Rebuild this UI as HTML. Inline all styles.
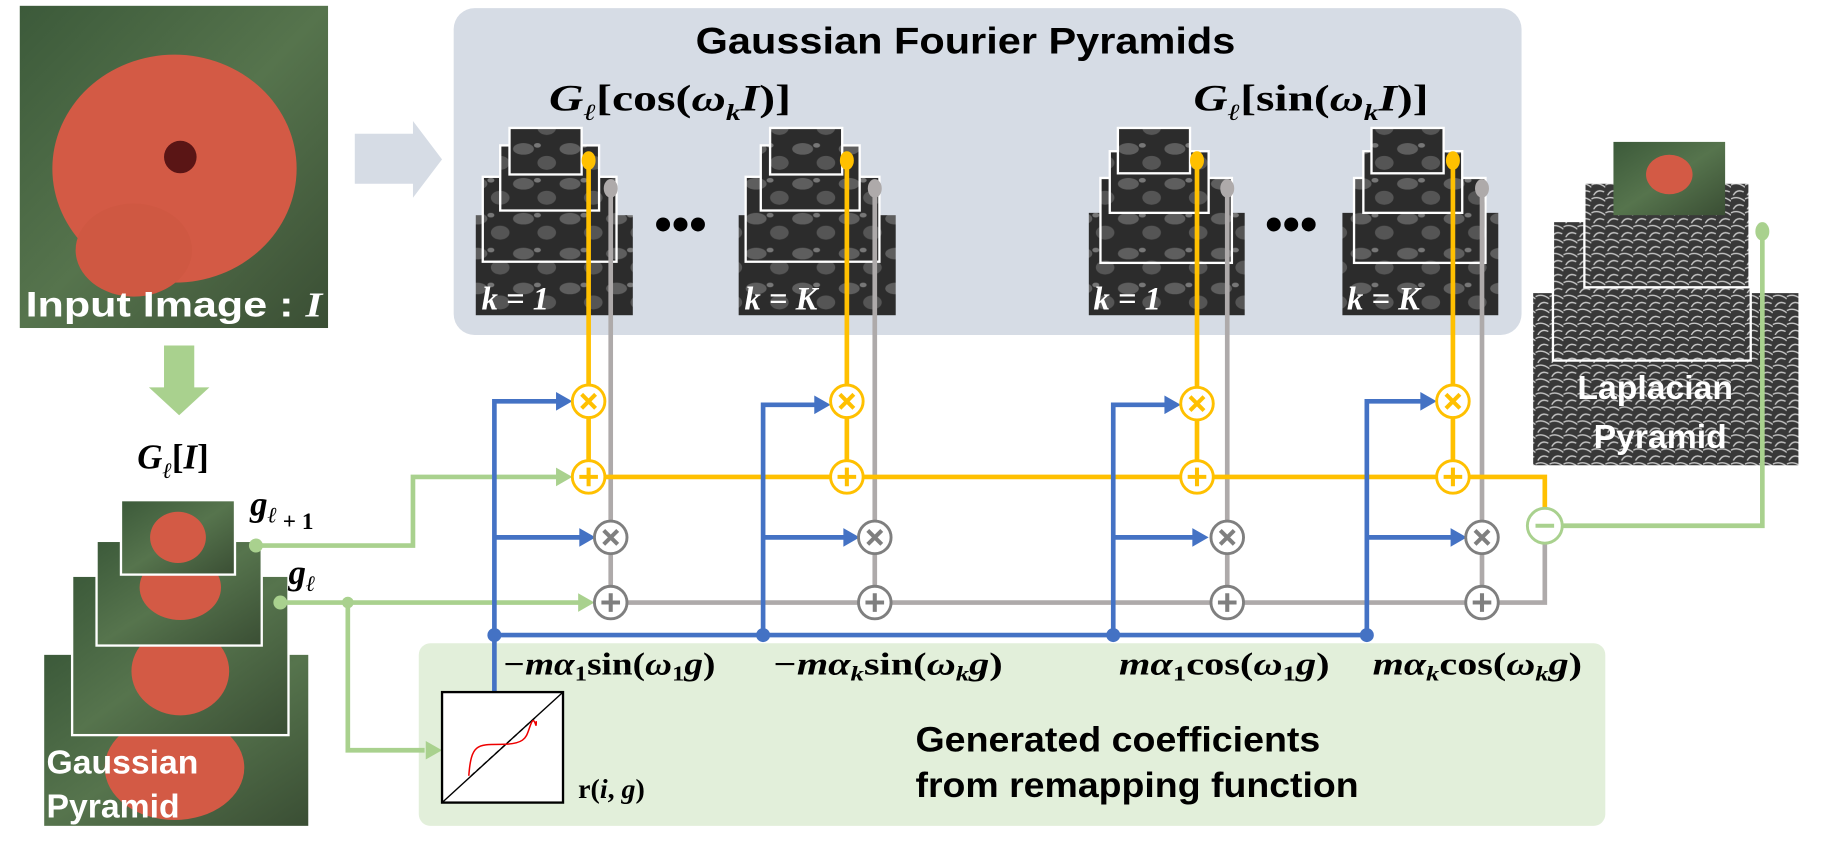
<!DOCTYPE html>
<html><head><meta charset="utf-8"><style>
html,body{margin:0;padding:0;background:#fff;}
svg{display:block;}
.t{font-family:"Liberation Sans",sans-serif;font-weight:bold;}
.m{font-family:"Liberation Serif",serif;font-weight:bold;font-style:italic;}
</style></head><body>
<svg width="1824" height="859" viewBox="0 0 1568 738.5" preserveAspectRatio="none" xmlns="http://www.w3.org/2000/svg">
<defs>
<pattern id="dk" width="40" height="30" patternUnits="userSpaceOnUse">
<rect width="40" height="30" fill="#2c2c2c"/>
<ellipse cx="10" cy="8" rx="9" ry="5" fill="#5e5e5e"/>
<ellipse cx="30" cy="20" rx="8" ry="6" fill="#555"/>
<ellipse cx="22" cy="5" rx="3" ry="2" fill="#777"/>
</pattern>
<pattern id="lp" width="12" height="12" patternUnits="userSpaceOnUse">
<rect width="12" height="12" fill="#383838"/>
<path d="M0 3 Q6 0 12 5 M2 12 Q5 6 11 9" stroke="#c8c8c8" stroke-width="1.2" fill="none"/>
</pattern>
<linearGradient id="lf" x1="0" y1="0" x2="1" y2="1">
<stop offset="0" stop-color="#3c5a3a"/><stop offset="0.5" stop-color="#56744d"/><stop offset="1" stop-color="#3a4e34"/>
</linearGradient>
</defs>

<!-- Input image -->
<rect x="17" y="5" width="265" height="277" fill="url(#lf)"/>
<ellipse cx="150" cy="145" rx="105" ry="98" fill="#d35a45"/>
<ellipse cx="115" cy="215" rx="50" ry="40" fill="#cf5842"/>
<circle cx="155" cy="135" r="14" fill="#5a1515"/>
<text x="22" y="272" class="t" font-size="30" fill="#fff" font-weight="normal" textLength="255" lengthAdjust="spacingAndGlyphs">Input Image : <tspan font-family="Liberation Serif" font-style="italic" font-weight="bold">I</tspan></text>

<!-- gray arrow -->
<polygon points="305,115 355,115 355,104 380,137 355,170 355,158 305,158" fill="#d6dce5"/>
<!-- green down arrow -->
<polygon points="141,297 167,297 167,333 180,333 154,357 128,333 141,333" fill="#a9d18e"/>

<!-- Fourier box -->
<rect x="390" y="7" width="918" height="281" rx="18" fill="#d6dce5"/>
<text x="598" y="46" class="t" font-size="32" textLength="464" lengthAdjust="spacingAndGlyphs">Gaussian Fourier Pyramids</text>
<text x="472" y="95" class="m" font-size="32" textLength="208" lengthAdjust="spacingAndGlyphs">G<tspan font-size="20" dy="8">ℓ</tspan><tspan dy="-8" font-style="normal">[cos(</tspan>ω<tspan font-size="20" dy="8">k</tspan><tspan dy="-8">I</tspan><tspan font-style="normal">)]</tspan></text>
<text x="1026" y="95" class="m" font-size="32" textLength="202" lengthAdjust="spacingAndGlyphs">G<tspan font-size="20" dy="8">ℓ</tspan><tspan dy="-8" font-style="normal">[sin(</tspan>ω<tspan font-size="20" dy="8">k</tspan><tspan dy="-8">I</tspan><tspan font-style="normal">)]</tspan></text>

<!-- stacks -->
<g stroke="#fff" stroke-width="2">
<rect x="409" y="185" width="135" height="86" fill="url(#dk)" stroke="none"/>
<rect x="415" y="152" width="115" height="73" fill="url(#dk)"/>
<rect x="430" y="125" width="85" height="56" fill="url(#dk)"/>
<rect x="438" y="110" width="62" height="40" fill="url(#dk)"/>

<rect x="635" y="185" width="135" height="86" fill="url(#dk)" stroke="none"/>
<rect x="641" y="152" width="115" height="73" fill="url(#dk)"/>
<rect x="654" y="125" width="85" height="56" fill="url(#dk)"/>
<rect x="662" y="110" width="62" height="40" fill="url(#dk)"/>

<rect x="936" y="183" width="134" height="88" fill="url(#dk)" stroke="none"/>
<rect x="946" y="153" width="113" height="73" fill="url(#dk)"/>
<rect x="954" y="130" width="85" height="53" fill="url(#dk)"/>
<rect x="961" y="110" width="62" height="39" fill="url(#dk)"/>

<rect x="1154" y="183" width="134" height="88" fill="url(#dk)" stroke="none"/>
<rect x="1164" y="153" width="113" height="73" fill="url(#dk)"/>
<rect x="1172" y="130" width="85" height="53" fill="url(#dk)"/>
<rect x="1179" y="110" width="62" height="39" fill="url(#dk)"/>
</g>
<g class="m" font-size="28" fill="#fff">
<text x="414" y="266">k = 1</text>
<text x="640" y="266">k = K</text>
<text x="940" y="266">k = 1</text>
<text x="1158" y="266">k = K</text>
</g>
<g fill="#000"><circle cx="570" cy="193" r="6"/><circle cx="585" cy="193" r="6"/><circle cx="600" cy="193" r="6"/>
<circle cx="1095" cy="193" r="6"/><circle cx="1110" cy="193" r="6"/><circle cx="1125" cy="193" r="6"/></g>

<!-- Laplacian pyramid -->
<rect x="1318" y="252" width="228" height="148" fill="url(#lp)"/>
<rect x="1335" y="190" width="170" height="120" fill="url(#lp)" stroke="#fff" stroke-width="2"/>
<rect x="1362" y="157" width="142" height="90" fill="url(#lp)" stroke="#fff" stroke-width="2"/>
<rect x="1387" y="122" width="96" height="63" fill="url(#lf)"/>
<ellipse cx="1435" cy="150" rx="20" ry="17" fill="#d35a45"/>
<text x="1356" y="343" class="t" font-size="29" fill="#fff">Laplacian</text>
<text x="1370" y="385" class="t" font-size="29" fill="#fff">Pyramid</text>

<!-- Green coefficient box -->
<rect x="360" y="553" width="1020" height="157" rx="10" fill="#e2efda"/>

<!-- Gaussian pyramid -->
<rect x="38" y="563" width="227" height="147" fill="url(#lf)"/>
<ellipse cx="150" cy="660" rx="60" ry="45" fill="#d35a45"/>
<rect x="62" y="495" width="186" height="137" fill="url(#lf)" stroke="#fff" stroke-width="2"/>
<ellipse cx="155" cy="577" rx="42" ry="38" fill="#d35a45"/>
<rect x="83" y="465" width="142" height="90" fill="url(#lf)" stroke="#fff" stroke-width="2"/>
<ellipse cx="155" cy="505" rx="35" ry="28" fill="#d35a45"/>
<rect x="104" y="430" width="98" height="64" fill="url(#lf)" stroke="#fff" stroke-width="2"/>
<ellipse cx="153" cy="462" rx="24" ry="22" fill="#d35a45"/>
<text x="40" y="665" class="t" font-size="29" fill="#fff">Gaussian</text>
<text x="40" y="703" class="t" font-size="29" fill="#fff">Pyramid</text>
<text x="118" y="403" class="m" font-size="30">G<tspan font-size="19" dy="8">ℓ</tspan><tspan dy="-8" font-style="normal">[</tspan>I<tspan font-style="normal">]</tspan></text>
<text x="215" y="443" class="m" font-size="30">g<tspan font-size="19" dy="6">ℓ</tspan><tspan font-size="20" font-style="normal" dy="6"> + 1</tspan></text>
<text x="248" y="502" class="m" font-size="30">g<tspan font-size="19" dy="6">ℓ</tspan></text>

<!-- gray lines -->
<g stroke="#aeaaaa" stroke-width="4" fill="none">
<line x1="525" y1="160" x2="525" y2="518"/>
<line x1="752" y1="160" x2="752" y2="518"/>
<line x1="1055" y1="160" x2="1055" y2="518"/>
<line x1="1274" y1="160" x2="1274" y2="518"/>
<polyline points="525,518 1328,518 1328,452"/>
</g>
<g fill="#aeaaaa"><ellipse cx="525" cy="162" rx="6" ry="8"/><ellipse cx="752" cy="162" rx="6" ry="8"/><ellipse cx="1055" cy="162" rx="6" ry="8"/><ellipse cx="1274" cy="162" rx="6" ry="8"/></g>

<!-- yellow lines -->
<g stroke="#ffc000" stroke-width="4" fill="none">
<line x1="506" y1="138" x2="506" y2="410"/>
<line x1="728" y1="138" x2="728" y2="410"/>
<line x1="1029" y1="138" x2="1029" y2="410"/>
<line x1="1249" y1="138" x2="1249" y2="410"/>
<polyline points="506,410 1328,410 1328,440"/>
</g>
<g fill="#ffc000"><ellipse cx="506" cy="138" rx="6" ry="8"/><ellipse cx="728" cy="138" rx="6" ry="8"/><ellipse cx="1029" cy="138" rx="6" ry="8"/><ellipse cx="1249" cy="138" rx="6" ry="8"/></g>

<!-- green lines -->
<g stroke="#a9d18e" stroke-width="4" fill="none">
<polyline points="220,469 355,469 355,410 482,410"/>
<polyline points="241,518 498,518"/>
<polyline points="299,518 299,645 365,645"/>
<polyline points="1343,452 1515,452 1515,197"/>
</g>
<g fill="#a9d18e">
<circle cx="220" cy="469" r="6"/><circle cx="241" cy="518" r="6"/><circle cx="299" cy="518" r="5"/><ellipse cx="1515" cy="199" rx="6" ry="8"/>
<polygon points="478,402 492,410 478,418"/><polygon points="497,510 511,518 497,526"/><polygon points="366,637 380,645 366,653"/>
</g>

<!-- blue lines -->
<g stroke="#4472c4" stroke-width="4" fill="none">
<polyline points="425,595 425,345 480,345"/>
<polyline points="425,462 500,462"/>
<polyline points="656,548 656,348 702,348"/>
<polyline points="656,462 727,462"/>
<polyline points="957,548 957,348 1003,348"/>
<polyline points="957,462 1027,462"/>
<polyline points="1175,548 1175,345 1223,345"/>
<polyline points="1175,462 1249,462"/>
<line x1="425" y1="546" x2="1175" y2="546"/>
</g>
<g fill="#4472c4">
<polygon points="478,337 492,345 478,353"/><polygon points="498,454 512,462 498,470"/>
<polygon points="700,340 714,348 700,356"/><polygon points="725,454 739,462 725,470"/>
<polygon points="1001,340 1015,348 1001,356"/><polygon points="1025,454 1039,462 1025,470"/>
<polygon points="1221,337 1235,345 1221,353"/><polygon points="1247,454 1261,462 1247,470"/>
<circle cx="425" cy="546" r="6"/><circle cx="656" cy="546" r="6"/><circle cx="957" cy="546" r="6"/><circle cx="1175" cy="546" r="6"/>
</g>

<!-- operator circles -->
<g stroke-width="2.5">
<g stroke="#ffc000" fill="#fff">
<circle cx="506" cy="345" r="14"/><circle cx="728" cy="345" r="14"/><circle cx="1029" cy="347" r="14"/><circle cx="1249" cy="345" r="14"/>
<circle cx="506" cy="410" r="14"/><circle cx="728" cy="410" r="14"/><circle cx="1029" cy="410" r="14"/><circle cx="1249" cy="410" r="14"/>
</g>
<g stroke="#7f7f7f" fill="#fff">
<circle cx="525" cy="462" r="14"/><circle cx="752" cy="462" r="14"/><circle cx="1055" cy="462" r="14"/><circle cx="1274" cy="462" r="14"/>
<circle cx="525" cy="518" r="14"/><circle cx="752" cy="518" r="14"/><circle cx="1055" cy="518" r="14"/><circle cx="1274" cy="518" r="14"/>
</g>
<circle cx="1328" cy="452" r="15" stroke="#a9d18e" fill="#fff"/>
</g>
<g stroke-width="3.5" fill="none">
<g stroke="#ffc000">
<path d="M500 339l12 12M512 339l-12 12M722 339l12 12M734 339l-12 12M1023 341l12 12M1035 341l-12 12M1243 339l12 12M1255 339l-12 12"/>
<path d="M506 402v16M498 410h16M728 402v16M720 410h16M1029 402v16M1021 410h16M1249 402v16M1241 410h16"/>
</g>
<g stroke="#7f7f7f">
<path d="M519 456l12 12M531 456l-12 12M746 456l12 12M758 456l-12 12M1049 456l12 12M1061 456l-12 12M1268 456l12 12M1280 456l-12 12"/>
<path d="M525 510v16M517 518h16M752 510v16M744 518h16M1055 510v16M1047 518h16M1274 510v16M1266 518h16"/>
</g>
<path d="M1320 452h16" stroke="#a9d18e"/>
</g>

<!-- remapping function box -->
<rect x="380" y="595" width="104" height="95" fill="#fff" stroke="#000" stroke-width="2"/>
<line x1="380" y1="690" x2="484" y2="595" stroke="#000" stroke-width="1.2"/>
<line x1="405" y1="667" x2="460" y2="617" stroke="#000" stroke-width="1.2" stroke-dasharray="4,3"/>
<path d="M403 667 C405 640 410 640 430 640 C455 640 452 632 457 621 C460 615 461 630 461 620" stroke="#e00" stroke-width="1.3" fill="none"/>
<text x="497" y="686" font-family="Liberation Serif" font-weight="bold" font-size="24">r(<tspan font-style="italic">i</tspan>, <tspan font-style="italic">g</tspan>)</text>

<!-- coefficient labels -->
<g class="m" font-size="27">
<text x="432" y="580" textLength="183" lengthAdjust="spacingAndGlyphs">−mα<tspan font-size="18" dy="5" font-style="normal">1</tspan><tspan dy="-5" font-style="normal">sin(</tspan>ω<tspan font-size="18" dy="5" font-style="normal">1</tspan><tspan dy="-5">g</tspan><tspan font-style="normal">)</tspan></text>
<text x="664" y="580" textLength="198" lengthAdjust="spacingAndGlyphs">−mα<tspan font-size="18" dy="5">k</tspan><tspan dy="-5" font-style="normal">sin(</tspan>ω<tspan font-size="18" dy="5">k</tspan><tspan dy="-5">g</tspan><tspan font-style="normal">)</tspan></text>
<text x="962" y="580" textLength="181" lengthAdjust="spacingAndGlyphs">mα<tspan font-size="18" dy="5" font-style="normal">1</tspan><tspan dy="-5" font-style="normal">cos(</tspan>ω<tspan font-size="18" dy="5" font-style="normal">1</tspan><tspan dy="-5">g</tspan><tspan font-style="normal">)</tspan></text>
<text x="1180" y="580" textLength="180" lengthAdjust="spacingAndGlyphs">mα<tspan font-size="18" dy="5">k</tspan><tspan dy="-5" font-style="normal">cos(</tspan>ω<tspan font-size="18" dy="5">k</tspan><tspan dy="-5">g</tspan><tspan font-style="normal">)</tspan></text>
</g>
<text x="787" y="646" class="t" font-size="30" textLength="348" lengthAdjust="spacingAndGlyphs">Generated coefficients</text>
<text x="787" y="685" class="t" font-size="30" textLength="381" lengthAdjust="spacingAndGlyphs">from remapping function</text>
</svg>
</body></html>
